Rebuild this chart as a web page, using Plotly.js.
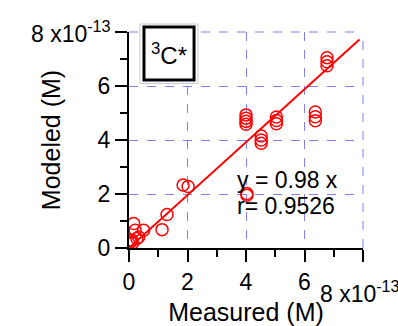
<!DOCTYPE html>
<html>
<head>
<meta charset="utf-8">
<script src="https://cdn.plot.ly/plotly-3.0.1.min.js"></script>
<style>html,body{margin:0;padding:0;background:#fff;}#chart{width:398px;height:326px;}</style>
</head>
<body>
<div id="chart"></div>
<script>
// Values in units of 1e-13 M
const measured = [0.16, 0.21, 0.50, 0.33, 0.10, 0.05, 0.27, 0.12,
                  1.13, 1.30, 1.85, 2.02,
                  4.03, 4.03,
                  4.00, 4.00, 4.00, 4.00,
                  4.52, 4.52, 4.52,
                  5.04, 5.04, 5.04,
                  6.37, 6.37, 6.37,
                  6.77, 6.77, 6.77];
const modeled  = [0.91, 0.66, 0.66, 0.41, 0.29, 0.22, 0.35, 0.18,
                  0.68, 1.24, 2.33, 2.28,
                  2.02, 1.95,
                  4.93, 4.81, 4.69, 4.58,
                  4.15, 4.00, 3.88,
                  4.85, 4.72, 4.60,
                  5.04, 4.86, 4.71,
                  7.05, 6.90, 6.75];
const fitX = [0, 7.88];
const fitY = [0, 7.72];
const axisMax = 8;
const xTickVals = [0, 2, 4, 6, 8];
const xTickText = ['0', '2', '4', '6', ''];
const yTickVals = [0, 2, 4, 6, 8];
const yTickText = ['0', '2', '4', '6', ''];
const xTitle = 'Measured (M)';
const yTitle = 'Modeled (M)';
const scaleLabel = '8 x10<sup>-13</sup>';
const boxLabel = '<sup>3</sup>C*';
const eqLine1 = 'y = 0.98 x';
const eqLine2 = 'r= 0.9526';

const FONT = 'Liberation Sans, Arial, sans-serif';
const gridColor = '#8080f0';

const traces = [
  {x: fitX, y: fitY, mode: 'lines', type: 'scatter',
   line: {color: '#ff0000', width: 2}, hoverinfo: 'skip'},
  {x: measured, y: modeled, mode: 'markers', type: 'scatter',
   marker: {symbol: 'circle-open', size: 12, color: '#ff0000', line: {width: 1.5, color: '#ff0000'}}}
];

const axisCommon = {
  range: [0, axisMax], showline: true, linecolor: '#000', linewidth: 2,
  ticks: 'outside', ticklen: 12, tickwidth: 2, tickcolor: '#000',
  showgrid: true, gridcolor: gridColor, gridwidth: 1, griddash: 'dash',
  zeroline: false, tickfont: {family: FONT, size: 23, color: '#000'},
  minor: {ticks: 'outside', ticklen: 7, tickwidth: 2, tickcolor: '#000', dtick: 1, tick0: 0, showgrid: false},
  tickmode: 'array', fixedrange: true
};

const layout = {
  width: 398, height: 326,
  margin: {l: 129, r: 35, t: 32, b: 78},
  paper_bgcolor: '#fff', plot_bgcolor: '#fff',
  showlegend: false,
  font: {family: FONT, color: '#000'},
  xaxis: Object.assign({}, axisCommon, {
    tickvals: xTickVals, ticktext: xTickText,
    title: {text: xTitle, font: {family: FONT, size: 25, color: '#000'}, standoff: 10}
  }),
  yaxis: Object.assign({}, axisCommon, {
    tickvals: yTickVals, ticktext: yTickText,
    title: {text: yTitle, font: {family: FONT, size: 25, color: '#000'}, standoff: 30}
  }),
  shapes: [
    {type: 'line', xref: 'paper', yref: 'paper', x0: 0, x1: 1, y0: 1, y1: 1,
     line: {color: gridColor, width: 1, dash: 'dash'}, layer: 'below'},
    {type: 'line', xref: 'paper', yref: 'paper', x0: 1, x1: 1, y0: 0, y1: 1,
     line: {color: gridColor, width: 1, dash: 'dash'}, layer: 'below'},
    {type: 'rect', xref: 'paper', yref: 'paper', x0: 0.047, x1: 0.295, y0: 0.762, y1: 1.037,
     line: {color: '#c8c8c8', width: 1}, fillcolor: '#fff', layer: 'above'},
    {type: 'rect', xref: 'paper', yref: 'paper', x0: 0.064, x1: 0.278, y0: 0.778, y1: 1.023,
     line: {color: '#000', width: 3}, fillcolor: 'rgba(0,0,0,0)', layer: 'above'}
  ],
  annotations: [
    {text: boxLabel, xref: 'paper', yref: 'paper', x: 0.171, y: 0.90, xanchor: 'center', yanchor: 'middle',
     showarrow: false, font: {family: FONT, size: 24, color: '#000'}},
    {text: eqLine1, xref: 'paper', yref: 'paper', x: 0.455, y: 0.315, xanchor: 'left', yanchor: 'middle',
     showarrow: false, font: {family: FONT, size: 23, color: '#000'}},
    {text: eqLine2, xref: 'paper', yref: 'paper', x: 0.455, y: 0.194, xanchor: 'left', yanchor: 'middle',
     showarrow: false, font: {family: FONT, size: 23, color: '#000'}},
    {text: scaleLabel, xref: 'paper', yref: 'paper', x: 0.808, y: -0.123, xanchor: 'left', yanchor: 'top',
     showarrow: false, font: {family: FONT, size: 23, color: '#000'}},
    {text: scaleLabel, xref: 'paper', yref: 'paper', x: -0.07, y: 1.0, xanchor: 'right', yanchor: 'middle',
     showarrow: false, font: {family: FONT, size: 23, color: '#000'}}
  ]
};

Plotly.newPlot('chart', traces, layout, {displayModeBar: false, staticPlot: true});
</script>
</body>
</html>
